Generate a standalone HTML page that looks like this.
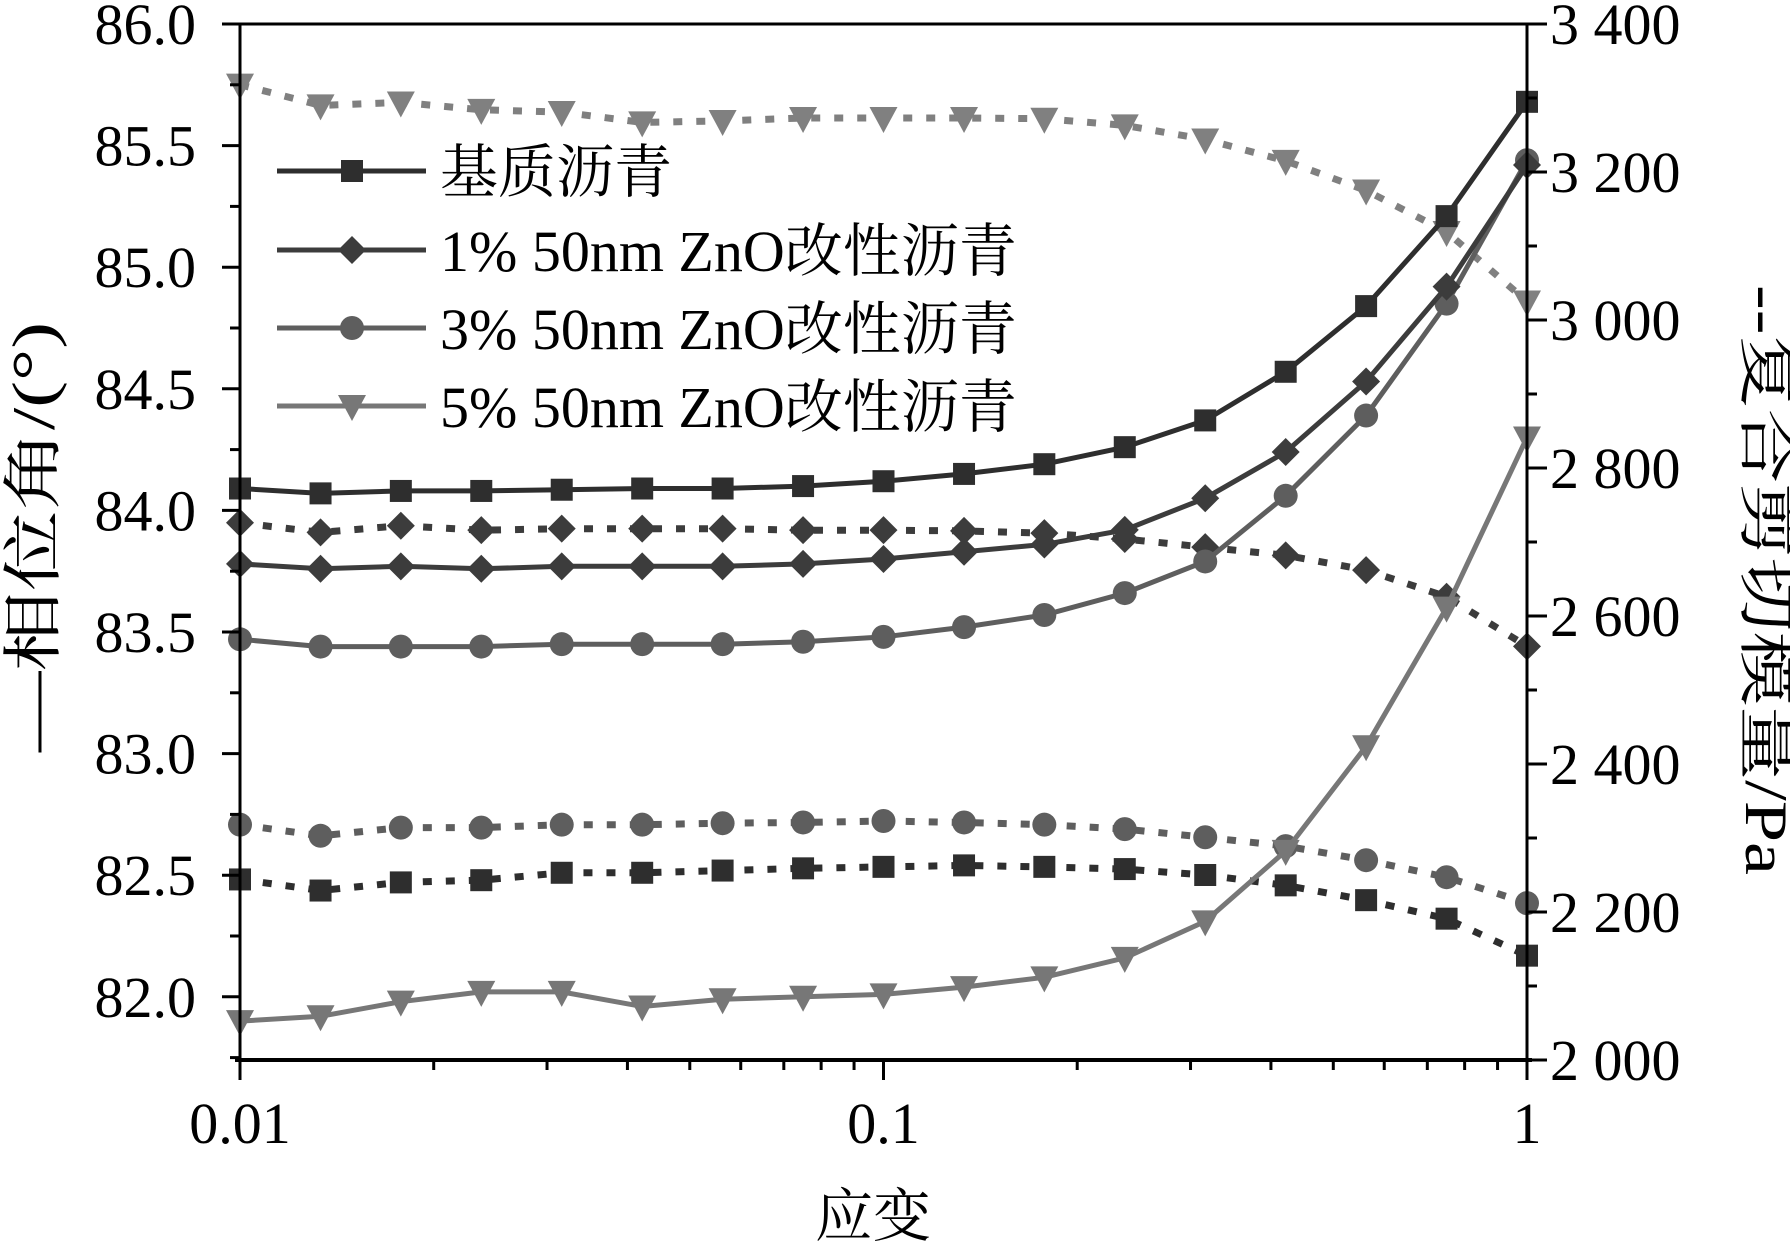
<!DOCTYPE html>
<html><head><meta charset="utf-8"><style>
html,body{margin:0;padding:0;background:#fff;}
svg{display:block;font-family:"Liberation Serif","Noto Serif CJK SC",serif;}
</style></head><body>
<svg id="chart" width="1790" height="1244" viewBox="0 0 1790 1244" xmlns="http://www.w3.org/2000/svg"></svg>
<script>
const strains = [0.01,0.01334,0.01778,0.02371,0.03162,0.04217,0.05623,0.07499,0.1,0.1334,0.1778,0.2371,0.3162,0.4217,0.5623,0.7499,1];
const phaseBase = [84.09,84.07,84.08,84.08,84.085,84.09,84.09,84.10,84.12,84.15,84.19,84.26,84.37,84.57,84.84,85.21,85.68];
const phase1 = [83.78,83.76,83.77,83.76,83.77,83.77,83.77,83.78,83.80,83.83,83.86,83.92,84.05,84.24,84.53,84.92,85.42];
const phase3 = [83.47,83.44,83.44,83.44,83.45,83.45,83.45,83.46,83.48,83.52,83.57,83.66,83.79,84.06,84.39,84.85,85.44];
const phase5 = [81.90,81.92,81.98,82.02,82.02,81.96,81.99,82.00,82.01,82.04,82.08,82.16,82.31,82.60,83.03,83.60,84.30];
const modBase = [2244,2229,2240,2243,2253,2253,2256,2259,2261,2263,2261,2258,2250,2236,2216,2191,2141];
const mod1 = [2726,2713,2722,2716,2718,2718,2718,2716,2716,2715,2712,2704,2693,2682,2662,2626,2559];
const mod3 = [2318,2303,2314,2314,2318,2318,2320,2321,2323,2321,2318,2312,2301,2289,2270,2247,2212];
const mod5 = [3318,3290,3294,3284,3281,3267,3269,3273,3273,3273,3272,3263,3244,3215,3175,3119,3025];
const leftTicks = ["82.0","82.5","83.0","83.5","84.0","84.5","85.0","85.5","86.0"];
const rightTicks = ["2 000","2 200","2 400","2 600","2 800","3 000","3 200","3 400"];
const xTicks = ["0.01","0.1","1"];
const legendLabels = ["基质沥青","1% 50nm ZnO改性沥青","3% 50nm ZnO改性沥青","5% 50nm ZnO改性沥青"];

const L=240,R=1527,T=24,B=1060;
const xS=v=>L+(Math.log10(v)+2)/2*(R-L);
const yL=v=>T+(86-v)*243.2;
const yR=v=>T+(3400-v)*148/200;
const svg=document.getElementById('chart');
const NS='http://www.w3.org/2000/svg';
function mk(tag,attrs,parent){const e=document.createElementNS(NS,tag);for(const k in attrs)e.setAttribute(k,attrs[k]);(parent||svg).appendChild(e);return e;}

function marker(shape,x,y,col,g){
  const s=11;
  if(shape==='sq') return mk('rect',{x:x-s,y:y-s,width:2*s,height:2*s,fill:col},g);
  if(shape==='di') return mk('polygon',{points:`${x},${y-14} ${x+14},${y} ${x},${y+14} ${x-14},${y}`,fill:col},g);
  if(shape==='ci') return mk('circle',{cx:x,cy:y,r:12,fill:col},g);
  return mk('polygon',{points:`${x-14},${y-11} ${x+14},${y-11} ${x},${y+15}`,fill:col},g);
}
function series(name,vals,ys,shape,col,dashed){
  const g=mk('g',{});
  
  
  const pts=vals.map((v,i)=>xS(strains[i]).toFixed(1)+','+ys(v).toFixed(1)).join(' ');
  const pl=mk('polyline',{points:pts,fill:'none',stroke:col,'stroke-width':dashed?7:5,'stroke-dasharray':dashed?'9 14':'none'},g);
  
  
  vals.forEach((v,i)=>{const m=marker(shape,xS(strains[i]),ys(v),col,g);
    
    });
}
series('modulus-5pct',mod5,yR,'tr','#808080',true);
series('modulus-1pct',mod1,yR,'di','#3c3c3c',true);
series('modulus-3pct',mod3,yR,'ci','#5e5e5e',true);
series('modulus-base',modBase,yR,'sq','#2e2e2e',true);
series('phase-5pct',phase5,yL,'tr','#777777',false);
series('phase-3pct',phase3,yL,'ci','#5e5e5e',false);
series('phase-1pct',phase1,yL,'di','#3c3c3c',false);
series('phase-base',phaseBase,yL,'sq','#2e2e2e',false);

const ax=mk('g',{stroke:'#000'});


mk('line',{x1:L,y1:T,x2:L,y2:B,'stroke-width':3},ax);
mk('line',{x1:R,y1:T,x2:R,y2:B,'stroke-width':3},ax);
mk('line',{x1:L,y1:T,x2:R+20,y2:T,'stroke-width':3},ax);
mk('line',{x1:L-5,y1:B,x2:R+5,y2:B,'stroke-width':4},ax);
leftTicks.forEach((t,i)=>{const v=parseFloat(t),y=yL(v);
  mk('line',{x1:L-18,y1:y,x2:L,y2:y,'stroke-width':3},ax);
  if(i<leftTicks.length-1) mk('line',{x1:L-10,y1:yL(v+0.25),x2:L,y2:yL(v+0.25),'stroke-width':3},ax);
  const tx=mk('text',{x:196,y:y+20,'font-size':58,'text-anchor':'end',stroke:'none',fill:'#000'});
  tx.textContent=t;
  
  });
mk('line',{x1:L-10,y1:yL(81.75),x2:L,y2:yL(81.75),'stroke-width':3},ax);
rightTicks.forEach((t,i)=>{const v=parseFloat(t.replace(' ','')),y=yR(v);
  mk('line',{x1:R,y1:y,x2:R+20,y2:y,'stroke-width':3},ax);
  if(i<rightTicks.length-1) mk('line',{x1:R,y1:yR(v+100),x2:R+10,y2:yR(v+100),'stroke-width':3},ax);
  const tx=mk('text',{x:1550,y:y+20,'font-size':58,stroke:'none',fill:'#000'});
  tx.textContent=t;
  
  });
xTicks.forEach(t=>{const v=parseFloat(t),x=xS(v);
  mk('line',{x1:x,y1:B,x2:x,y2:B+20,'stroke-width':3},ax);
  const tx=mk('text',{x:x,y:1143,'font-size':58,'text-anchor':'middle',stroke:'none',fill:'#000'});
  tx.textContent=t;
  
  
  if(v<1) for(let k=2;k<=9;k++){const xm=xS(v*k);mk('line',{x1:xm,y1:B,x2:xm,y2:B+10,'stroke-width':3},ax);}
});
let t1=mk('text',{x:0,y:0,'font-size':60,'text-anchor':'middle',textLength:430,lengthAdjust:'spacingAndGlyphs',transform:'translate(54,537) rotate(-90)'});
t1.textContent='—相位角/(°)';


let t2=mk('text',{x:0,y:0,'font-size':60,'text-anchor':'middle',textLength:590,lengthAdjust:'spacingAndGlyphs',transform:'translate(1746,580) rotate(90)'});
t2.textContent='--复合剪切模量/Pa';


let t3=mk('text',{x:873,y:1236,'font-size':58,'text-anchor':'middle'});
t3.textContent='应变';


const lg=mk('g',{});


const lcols=['#2e2e2e','#3c3c3c','#5e5e5e','#777777'],lsh=['sq','di','ci','tr'],ly=[171,250,328,406];
legendLabels.forEach((lab,i)=>{
  const e=mk('g',{},lg);
  
  
  mk('line',{x1:277,y1:ly[i],x2:426,y2:ly[i],stroke:lcols[i],'stroke-width':5},e);
  marker(lsh[i],352,ly[i],lcols[i],e);
  const tx=mk('text',{x:440,y:ly[i]+21,'font-size':58,fill:'#000'},e);
  tx.textContent=lab;});
</script>
</body></html>
